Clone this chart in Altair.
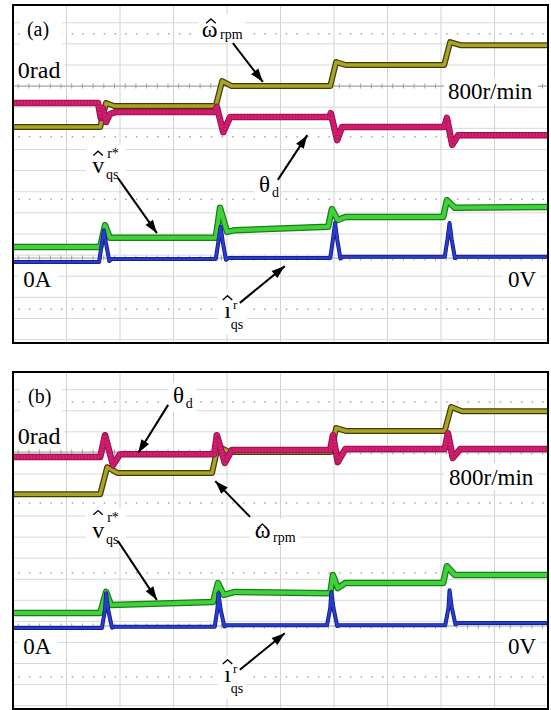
import math
import altair as alt
import pandas as pd

# ---------------- data (oscilloscope divisions: x 0..10, y 0..8 from bottom of each panel) ----------------
# panel (a)
olive_a_x = [0, 1.63, 1.74, 1.89, 3.79, 3.91, 4.09, 5.93, 6.04, 6.22, 8.06, 8.17, 8.36, 10]
olive_a_y = [5.11, 5.11, 5.68, 5.61, 5.61, 6.20, 6.08, 6.08, 6.65, 6.58, 6.58, 7.12, 7.05, 7.05]
mag_a_x = [0, 1.59, 1.64, 1.68, 1.74, 1.81, 1.93, 3.78, 3.81, 3.93, 4.06, 5.91, 5.94, 6.06, 6.15, 8.06, 8.11, 8.21, 8.32, 10]
mag_a_y = [5.68, 5.68, 5.33, 5.56, 5.23, 5.42, 5.47, 5.47, 5.59, 4.99, 5.35, 5.35, 5.44, 4.80, 5.11, 5.11, 5.33, 4.69, 4.92, 4.92]
green_a_x = [0, 1.63, 1.72, 1.81, 3.79, 3.87, 4.00, 4.15, 5.89, 5.96, 6.07, 6.21, 8.04, 8.11, 8.26, 10]
green_a_y = [2.27, 2.27, 2.79, 2.49, 2.49, 3.20, 2.63, 2.67, 2.75, 3.17, 2.91, 2.98, 2.98, 3.38, 3.20, 3.22]
blue_a_x = [0, 1.61, 1.66, 1.70, 1.74, 1.80, 1.85, 3.79, 3.84, 3.88, 3.92, 3.98, 4.03,
            5.93, 5.98, 6.02, 6.06, 6.12, 6.17, 8.07, 8.12, 8.16, 8.20, 8.26, 8.31, 10]
blue_a_y = [1.92, 1.92, 2.35, 2.67, 2.35, 1.94, 1.99, 1.99, 2.40, 2.75, 2.40, 1.97, 2.01,
            2.01, 2.45, 2.84, 2.45, 2.00, 2.04, 2.04, 2.45, 2.84, 2.45, 2.01, 2.04, 2.04]

# panel (b)
olive_b_x = [0, 1.63, 1.76, 1.96, 3.72, 3.83, 4.04, 5.94, 6.04, 6.22, 8.07, 8.19, 8.39, 10]
olive_b_y = [5.10, 5.10, 5.74, 5.60, 5.60, 6.24, 6.10, 6.10, 6.67, 6.60, 6.60, 7.17, 7.07, 7.07]
mag_b_x = [0, 1.63, 1.72, 1.87, 2.00, 3.76, 3.81, 3.96, 4.09, 5.93, 5.98, 6.07, 6.21, 8.07, 8.13, 8.22, 8.36, 10]
mag_b_y = [5.98, 5.98, 6.50, 5.79, 6.05, 6.05, 6.50, 5.84, 6.15, 6.15, 6.50, 5.86, 6.17, 6.17, 6.55, 5.96, 6.17, 6.17]
green_b_x = [0, 1.63, 1.74, 1.83, 3.74, 3.83, 3.94, 4.15, 5.93, 5.98, 6.07, 6.21, 8.04, 8.11, 8.26, 10]
green_b_y = [2.28, 2.28, 2.78, 2.47, 2.54, 2.99, 2.71, 2.78, 2.75, 3.18, 2.87, 2.99, 2.99, 3.39, 3.18, 3.18]
blue_b_x = [0, 1.66, 1.72, 1.74, 1.78, 1.85, 1.90, 3.77, 3.82, 3.84, 3.88, 3.95, 4.00,
            5.87, 5.93, 5.95, 5.99, 6.06, 6.11, 8.08, 8.14, 8.16, 8.20, 8.27, 8.32, 10]
blue_b_y = [1.92, 1.92, 2.35, 2.75, 2.35, 1.93, 1.95, 1.95, 2.37, 2.75, 2.37, 1.96, 1.99,
            1.99, 2.40, 2.78, 2.40, 1.97, 1.99, 1.99, 2.40, 2.82, 2.42, 2.01, 2.04, 2.04]

# graticule
vgrid_x = [1, 2, 3, 4, 5, 6, 7, 8, 9]
hgrid = [0.08, 0.58, 1.08, 1.58, 2.08, 2.58, 3.08, 3.58, 4.08, 4.58, 5.08, 5.58, 6.08, 6.58, 7.08, 7.58]
dots_a = [7.32, 4.88, 3.40, 0.80]
dots_b = [7.29, 4.89, 3.23, 0.76]
ref_a = [6.08, 2.01]
ref_b = [6.10, 1.97]

# labels: (text, x, y, font size)
labels_a = [("(a)", 0.26, 7.27, 20), ("0rad", 0.09, 6.27, 24), ("800r/min", 8.13, 5.78, 23),
            ("0A", 0.19, 1.33, 23), ("0V", 9.25, 1.33, 23),
            ("ω", 3.53, 7.24, 24), ("rpm", 3.87, 7.20, 14),
            ("θ", 4.60, 3.57, 23), ("d", 4.84, 3.46, 14),
            ("v", 1.48, 4.02, 24), ("r*", 1.76, 4.38, 14), ("qs", 1.74, 3.88, 14),
            ("ı", 3.95, 0.59, 24), ("r", 4.11, 0.80, 13), ("qs", 4.07, 0.33, 14)]
labels_b = [("(b)", 0.28, 7.26, 20), ("0rad", 0.09, 6.29, 24), ("800r/min", 8.15, 5.32, 23),
            ("0A", 0.19, 1.31, 23), ("0V", 9.25, 1.31, 23),
            ("θ", 2.99, 7.26, 23), ("d", 3.23, 7.15, 14),
            ("ω", 4.52, 4.06, 24), ("rpm", 4.86, 3.96, 14),
            ("v", 1.48, 4.06, 24), ("r*", 1.76, 4.44, 14), ("qs", 1.74, 3.92, 14),
            ("ı", 3.95, 0.64, 24), ("r", 4.11, 0.85, 13), ("qs", 4.07, 0.38, 14)]
# circumflex accents (centre of each hat)
hats_a = [(3.70, 7.62), (1.59, 4.49), (4.01, 1.07)]
hats_b = [(4.66, 4.34), (1.59, 4.66), (4.01, 1.12)]

# white label boxes: (x1, x2, y1, y2)
boxes_a = [(0.13, 0.92, 7.76, 7.05), (0.02, 0.95, 6.82, 6.15), (8.06, 9.81, 6.27, 5.66),
           (0.09, 0.84, 1.78, 1.21), (9.16, 9.85, 1.78, 1.21), (3.46, 4.34, 7.79, 7.12),
           (4.52, 4.99, 4.05, 3.38), (1.36, 2.11, 4.69, 3.79), (3.83, 4.37, 1.25, 0.21)]
boxes_b = [(0.13, 0.92, 7.76, 7.05), (0.02, 0.95, 6.81, 6.17), (8.06, 9.81, 5.84, 5.20),
           (0.09, 0.84, 1.76, 1.19), (9.16, 9.85, 1.76, 1.19), (2.90, 3.42, 7.74, 7.05),
           (4.43, 5.36, 4.53, 3.87), (1.36, 2.11, 4.77, 3.82), (3.83, 4.37, 1.26, 0.24)]

# arrows: (tail x, tail y, head x, head y)
arrows_a = [(4.11, 7.10, 4.67, 6.18), (4.95, 3.86, 5.50, 4.92),
            (1.96, 3.91, 2.69, 2.60), (4.24, 0.95, 5.08, 1.82)]
arrows_b = [(2.90, 7.22, 2.34, 6.08), (4.43, 4.56, 3.78, 5.41),
            (1.96, 3.99, 2.69, 2.59), (4.24, 0.93, 5.08, 1.80)]

# ---------------- layout / styling ----------------
W = 535
HA, HB, GAP_PX = 338, 337, 29
PXY = HA / 8.0                       # px per division (global y scale)
PXX = W / 10.0
GAP = GAP_PX / PXY                   # gap between panels in divisions
KB = (HB / 8.0) / PXY                # panel (b) division size relative to (a)
YMIN = -(GAP + 8 * KB)
H = HA + GAP_PX + HB

FONT = "Liberation Serif, Times New Roman, serif"
OLIVE = ("#3f3c08", "#aaa326")
MAGENTA = ("#96104c", "#d61f73")
GREEN = ("#1c7c1c", "#3fd23a")
BLUE = ("#0d1785", "#2a3ccc")


def gy(panel, y):
    """map a panel-local division value to the shared vertical scale"""
    return y if panel == "a" else -GAP - (8 - y) * KB


xs = alt.Scale(domain=[0, 10], nice=False, zero=False)
ys = alt.Scale(domain=[YMIN, 8], nice=False, zero=False)


def X(f):
    return alt.X(f, type="quantitative", scale=xs, axis=None)


def Y(f):
    return alt.Y(f, type="quantitative", scale=ys, axis=None)


panels = {
    "a": dict(traces=[(olive_a_x, olive_a_y), (mag_a_x, mag_a_y), (green_a_x, green_a_y), (blue_a_x, blue_a_y)],
              dots=dots_a, refs=ref_a, labels=labels_a, hats=hats_a, boxes=boxes_a, arrows=arrows_a),
    "b": dict(traces=[(olive_b_x, olive_b_y), (mag_b_x, mag_b_y), (green_b_x, green_b_y), (blue_b_x, blue_b_y)],
              dots=dots_b, refs=ref_b, labels=labels_b, hats=hats_b, boxes=boxes_b, arrows=arrows_b),
}

vg_rows, hg_rows, dot_rows, ref_rows, box_rows = [], [], [], [], []
trace_rows = {k: [] for k in range(4)}
lab_rows, hat_rows, arr_rows, frame_rows = [], [], [], []
for p, d in panels.items():
    frame_rows.append({"x1": 0, "x2": 10, "y1": gy(p, 0), "y2": gy(p, 8)})
    for v in vgrid_x:
        vg_rows.append({"x": v, "y1": gy(p, 0), "y2": gy(p, 8)})
    for v in hgrid:
        hg_rows.append({"y": gy(p, v)})
    for v in d["dots"]:
        dot_rows.append({"y": gy(p, v)})
    for v in d["refs"]:
        ref_rows.append({"y": gy(p, v)})
    for (x1, x2, y1, y2) in d["boxes"]:
        box_rows.append({"x1": x1, "x2": x2, "y1": gy(p, y1), "y2": gy(p, y2)})
    for k, (xv, yv) in enumerate(d["traces"]):
        for i, (xx, yy) in enumerate(zip(xv, yv)):
            trace_rows[k].append({"x": xx, "y": gy(p, yy), "i": i, "p": p})
    for (t, xx, yy, s) in d["labels"]:
        lab_rows.append({"t": t, "x": xx, "y": gy(p, yy), "s": s})
    for (xx, yy) in d["hats"]:
        hat_rows.append({"x": xx, "y": gy(p, yy)})
    for (tx, ty, hx, hy) in d["arrows"]:
        a = math.degrees(math.atan2((hx - tx) * PXX, (gy(p, hy) - gy(p, ty)) * PXY))
        arr_rows.append({"tx": tx, "ty": gy(p, ty), "hx": hx, "hy": gy(p, hy), "ang": (a + 360) % 360})

trace_styles = [OLIVE, MAGENTA, GREEN, BLUE]
trace_widths = [(6, 3.5), (6.5, 4.5), (6.5, 4), (4, 2.5)]

layers = [
    alt.Chart(pd.DataFrame(vg_rows)).mark_rule(color="#d2d2d2", strokeWidth=1)
    .encode(x=X("x"), y=Y("y1"), y2="y2"),
    alt.Chart(pd.DataFrame(hg_rows)).mark_rule(color="#d9d9d9", strokeWidth=1)
    .encode(y=Y("y")),
    alt.Chart(pd.DataFrame(dot_rows)).mark_rule(color="#a6a6a6", strokeWidth=1.5,
                                               strokeDash=[1.5, 9.2], strokeDashOffset=-4)
    .encode(y=Y("y")),
    alt.Chart(pd.DataFrame(ref_rows)).mark_rule(color="#a0a0a0", strokeWidth=1)
    .encode(y=Y("y")),
    alt.Chart(pd.DataFrame(ref_rows)).mark_rule(color="#a0a0a0", strokeWidth=5,
                                               strokeDash=[1, 9.7], strokeDashOffset=-5)
    .encode(y=Y("y")),
    alt.Chart(pd.DataFrame(box_rows)).mark_rect(color="white")
    .encode(x=X("x1"), x2="x2", y=Y("y1"), y2="y2"),
]

for k in range(4):
    df = pd.DataFrame(trace_rows[k])
    wo, wi = trace_widths[k]
    layers.append(alt.Chart(df).mark_line(color=trace_styles[k][0], strokeWidth=wo, strokeJoin="round")
                  .encode(x=X("x"), y=Y("y"), detail="p:N", order="i:Q"))
    layers.append(alt.Chart(df).mark_line(color=trace_styles[k][1], strokeWidth=wi, strokeJoin="round")
                  .encode(x=X("x"), y=Y("y"), detail="p:N", order="i:Q"))
    if k == 1:  # ripple texture of the angle-error trace
        layers.append(alt.Chart(df).mark_line(color="#a3124f", strokeWidth=6, strokeJoin="round",
                                              strokeDash=[1, 2.2], opacity=0.55)
                      .encode(x=X("x"), y=Y("y"), detail="p:N", order="i:Q"))

layers += [
    alt.Chart(pd.DataFrame(lab_rows)).mark_text(align="left", baseline="alphabetic", font=FONT, color="black")
    .encode(x=X("x"), y=Y("y"), text="t:N", size=alt.Size("s:Q", scale=None)),
    alt.Chart(pd.DataFrame(hat_rows)).mark_point(shape="M-1,0.45L0,-0.45L1,0.45", filled=False,
                                                 color="black", opacity=1, size=90, strokeWidth=1.3)
    .encode(x=X("x"), y=Y("y")),
    alt.Chart(pd.DataFrame(arr_rows)).mark_rule(color="black", strokeWidth=2)
    .encode(x=X("tx"), y=Y("ty"), x2="hx", y2="hy"),
    alt.Chart(pd.DataFrame(arr_rows)).mark_point(shape="M0,0L-0.65,1.9L0.65,1.9Z", filled=True,
                                                 color="black", opacity=1, size=196, strokeWidth=0)
    .encode(x=X("hx"), y=Y("hy"), angle=alt.Angle("ang:Q", scale=None)),
    alt.Chart(pd.DataFrame(frame_rows)).mark_rect(filled=False, stroke="black", strokeWidth=2)
    .encode(x=X("x1"), x2="x2", y=Y("y1"), y2="y2"),
]

chart = (alt.layer(*layers)
         .properties(width=W, height=H,
                     padding={"left": 13, "top": 5, "right": 3, "bottom": 1},
                     autosize=alt.AutoSizeParams(type="none"), background="white")
         .configure_view(stroke=None))

chart.save("out.html", embed_options={"renderer": "svg", "actions": False})
